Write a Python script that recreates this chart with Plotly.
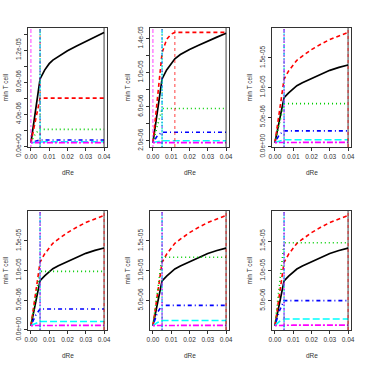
import numpy as np
import plotly.graph_objects as go

# x grid (dRe)
x = [0, 0.0025, 0.005, 0.0075, 0.01, 0.012, 0.015, 0.02, 0.025, 0.03, 0.035, 0.04]

# values in units of 1e-6 ("min T cell")
p1_black   = [0.45, 4.4, 8.4, 9.5, 10.3, 10.75, 11.2, 11.9, 12.5, 13.1, 13.7, 14.2]
p1_red     = [0.45, 3.2, 6.0, 6.0, 6.0, 6.0, 6.0, 6.0, 6.0, 6.0, 6.0, 6.0]
p1_green   = [0.45, 1.6, 2.1, 2.1, 2.1, 2.1, 2.1, 2.1, 2.1, 2.1, 2.1, 2.1]
p1_blue    = [0.45, 0.65, 0.78, 0.78, 0.78, 0.78, 0.78, 0.78, 0.78, 0.78, 0.78, 0.78]
p1_cyan    = [0.45, 0.5, 0.55, 0.55, 0.55, 0.55, 0.55, 0.55, 0.55, 0.55, 0.55, 0.55]
p1_magenta = [0.45, 0.45, 0.45, 0.45, 0.45, 0.45, 0.45, 0.45, 0.45, 0.45, 0.45, 0.45]

p2_black   = [1.78, 5.5, 9.25, 10.3, 11.1, 11.6, 12.1, 12.7, 13.2, 13.7, 14.15, 14.6]
p2_red     = [1.78, 7.0, 12.3, 13.9, 14.5, 14.7, 14.7, 14.7, 14.7, 14.7, 14.7, 14.7]
p2_green   = [1.78, 3.9, 5.77, 5.77, 5.77, 5.77, 5.77, 5.77, 5.77, 5.77, 5.77, 5.77]
p2_blue    = [1.78, 2.6, 3.0, 3.0, 3.0, 3.0, 3.0, 3.0, 3.0, 3.0, 3.0, 3.0]
p2_cyan    = [1.78, 1.9, 2.0, 2.0, 2.0, 2.0, 2.0, 2.0, 2.0, 2.0, 2.0, 2.0]
p2_magenta = [1.78, 1.78, 1.78, 1.78, 1.78, 1.78, 1.78, 1.78, 1.78, 1.78, 1.78, 1.78]

p3_black   = [0.70, 4.5, 8.3, 9.1, 9.8, 10.3, 10.8, 11.5, 12.2, 12.9, 13.4, 13.8]
p3_red     = [0.70, 6.0, 11.4, 12.8, 13.9, 14.6, 15.3, 16.4, 17.3, 18.1, 18.7, 19.3]
p3_green   = [0.70, 4.0, 7.28, 7.28, 7.28, 7.28, 7.28, 7.28, 7.28, 7.28, 7.28, 7.28]
p3_blue    = [0.70, 2.1, 2.68, 2.68, 2.68, 2.68, 2.68, 2.68, 2.68, 2.68, 2.68, 2.68]
p3_cyan    = [0.70, 1.0, 1.17, 1.17, 1.17, 1.17, 1.17, 1.17, 1.17, 1.17, 1.17, 1.17]
p3_magenta = [0.70, 0.72, 0.74, 0.74, 0.74, 0.74, 0.74, 0.74, 0.74, 0.74, 0.74, 0.74]

p4_black   = [0.70, 4.5, 8.3, 9.1, 9.8, 10.3, 10.8, 11.5, 12.2, 12.9, 13.4, 13.8]
p4_red     = [0.70, 6.0, 11.4, 12.8, 13.9, 14.6, 15.3, 16.4, 17.3, 18.1, 18.7, 19.3]
p4_green   = [0.70, 5.3, 9.85, 9.85, 9.85, 9.85, 9.85, 9.85, 9.85, 9.85, 9.85, 9.85]
p4_blue    = [0.70, 2.4, 3.5, 3.5, 3.5, 3.5, 3.5, 3.5, 3.5, 3.5, 3.5, 3.5]
p4_cyan    = [0.70, 1.1, 1.4, 1.4, 1.4, 1.4, 1.4, 1.4, 1.4, 1.4, 1.4, 1.4]
p4_magenta = [0.70, 0.72, 0.74, 0.74, 0.74, 0.74, 0.74, 0.74, 0.74, 0.74, 0.74, 0.74]

p5_black   = [0.78, 4.5, 8.3, 9.1, 9.8, 10.3, 10.8, 11.5, 12.2, 12.9, 13.4, 13.8]
p5_red     = [0.78, 6.0, 11.4, 12.8, 13.9, 14.6, 15.3, 16.4, 17.3, 18.1, 18.7, 19.3]
p5_green   = [0.78, 6.5, 12.26, 12.26, 12.26, 12.26, 12.26, 12.26, 12.26, 12.26, 12.26, 12.26]
p5_blue    = [0.78, 3.0, 4.17, 4.17, 4.17, 4.17, 4.17, 4.17, 4.17, 4.17, 4.17, 4.17]
p5_cyan    = [0.78, 1.3, 1.64, 1.64, 1.64, 1.64, 1.64, 1.64, 1.64, 1.64, 1.64, 1.64]
p5_magenta = [0.78, 0.80, 0.82, 0.82, 0.82, 0.82, 0.82, 0.82, 0.82, 0.82, 0.82, 0.82]

p6_black   = [0.80, 4.5, 8.3, 9.1, 9.8, 10.3, 10.8, 11.5, 12.2, 12.9, 13.4, 13.8]
p6_red     = [0.80, 6.0, 11.4, 12.8, 13.9, 14.6, 15.3, 16.4, 17.3, 18.1, 18.7, 19.3]
p6_green   = [0.80, 7.7, 14.7, 14.7, 14.7, 14.7, 14.7, 14.7, 14.7, 14.7, 14.7, 14.7]
p6_blue    = [0.80, 3.3, 5.0, 5.0, 5.0, 5.0, 5.0, 5.0, 5.0, 5.0, 5.0, 5.0]
p6_cyan    = [0.80, 1.5, 1.91, 1.91, 1.91, 1.91, 1.91, 1.91, 1.91, 1.91, 1.91, 1.91]
p6_magenta = [0.80, 0.85, 0.88, 0.88, 0.88, 0.88, 0.88, 0.88, 0.88, 0.88, 0.88, 0.88]

panels = [
    [p1_black, p1_red, p1_green, p1_blue, p1_cyan, p1_magenta],
    [p2_black, p2_red, p2_green, p2_blue, p2_cyan, p2_magenta],
    [p3_black, p3_red, p3_green, p3_blue, p3_cyan, p3_magenta],
    [p4_black, p4_red, p4_green, p4_blue, p4_cyan, p4_magenta],
    [p5_black, p5_red, p5_green, p5_blue, p5_cyan, p5_magenta],
    [p6_black, p6_red, p6_green, p6_blue, p6_cyan, p6_magenta],
]

# y tick values (1e-6 units) and labels per panel
ytick_vals = [
    [0, 2, 4, 6, 8, 10, 12, 14],
    [2, 4, 6, 8, 10, 12, 14],
    [0, 5, 10, 15],
    [0, 5, 10, 15],
    [5, 10, 15],
    [5, 10, 15],
]
ytick_text = [
    ["0.0e+00", "", "4.0e-06", "", "8.0e-06", "", "1.2e-05", ""],
    ["2.0e-06", "", "6.0e-06", "", "1.0e-05", "", "1.4e-05"],
    ["0.0e+00", "5.0e-06", "1.0e-05", "1.5e-05"],
    ["0.0e+00", "5.0e-06", "1.0e-05", "1.5e-05"],
    ["5.0e-06", "1.0e-05", "1.5e-05"],
    ["5.0e-06", "1.0e-05", "1.5e-05"],
]
xtick_vals = [0, 0.01, 0.02, 0.03, 0.04]
xtick_text = ["0.00", "0.01", "0.02", "0.03", "0.04"]
x_title = "dRe"
y_title = "min T cell"

colors = ["#000000", "#FF0000", "#00CD00", "#0000FF", "#00FFFF", "#FF00FF"]
dashes = ["solid", "4px,3px", "1px,3px", "1px,3px,4px,3px", "7px,3px", "2px,2px,6px,2px"]
vdashes = ["solid", "3px,3px", "1px,2px", "1px,2px,3px,2px", "5px,2px", "2px,2px,4px,2px"]

S = 366
fig = go.Figure()
shapes = []
annotations = []
font_fam = "Liberation Sans, Arial, sans-serif"
tc = "#333333"

xmin, xmax = min(x), max(x)
xpad = 0.04 * (xmax - xmin)

for i, series in enumerate(panels):
    r, c = divmod(i, 3)
    cx, ry = c * 122, r * 183
    n = "" if i == 0 else str(i + 1)
    xa, ya = "x" + n, "y" + n
    allv = np.concatenate([np.array(s) for s in series]) * 1e-6
    lo, hi = allv.min(), allv.max()
    pad = 0.04 * (hi - lo)
    for k, s in enumerate(series):
        yv = np.array(s) * 1e-6
        fig.add_trace(go.Scatter(x=x, y=yv, mode="lines", xaxis=xa, yaxis=ya,
                                 line=dict(color=colors[k], width=1.7 if k == 0 else 1.6,
                                           dash=dashes[k]),
                                 showlegend=False, hoverinfo="skip"))
    for k, s in enumerate(series):
        vx = x[int(np.argmax(s))]
        shapes.append(dict(type="line", xref=xa, yref=ya + " domain", x0=vx, x1=vx, y0=0, y1=1,
                           opacity=0.75,
                           line=dict(color=colors[k], width=1, dash=vdashes[k])))
    axcommon = dict(showgrid=False, zeroline=False, showline=True, mirror=True,
                    linecolor="#333333", linewidth=1, ticks="outside", ticklen=3,
                    tickcolor="#333333", tickwidth=1,
                    tickfont=dict(size=6.5, color=tc, family=font_fam), automargin=False)
    fig.layout["xaxis" + n] = dict(domain=[(cx + 28) / S, (cx + 107) / S], anchor=ya,
                                   range=[xmin - xpad, xmax + xpad],
                                   tickvals=xtick_vals, ticktext=xtick_text, **axcommon)
    fig.layout["yaxis" + n] = dict(domain=[1 - (ry + 147) / S, 1 - (ry + 28) / S], anchor=xa,
                                   range=[lo - pad, hi + pad],
                                   tickvals=[v * 1e-6 for v in ytick_vals[i]],
                                   ticktext=ytick_text[i], tickangle=-90, **axcommon)
    annotations.append(dict(text=y_title, xref="paper", yref="paper",
                            x=(cx + 5) / S, y=1 - (ry + 87.5) / S, textangle=-90,
                            showarrow=False, font=dict(size=6.5, color=tc, family=font_fam),
                            xanchor="center", yanchor="middle"))
    annotations.append(dict(text=x_title, xref="paper", yref="paper",
                            x=(cx + 67.5) / S, y=1 - (ry + 172.7) / S,
                            showarrow=False, font=dict(size=6.5, color=tc, family=font_fam),
                            xanchor="center", yanchor="middle"))

fig.update_layout(width=S, height=S, margin=dict(l=0, r=0, t=0, b=0),
                  paper_bgcolor="white", plot_bgcolor="white",
                  shapes=shapes, annotations=annotations, showlegend=False)
fig.write_html("out.html", config={"displayModeBar": False},
               post_script="document.body.style.margin='0px';document.body.style.overflow='hidden';")
